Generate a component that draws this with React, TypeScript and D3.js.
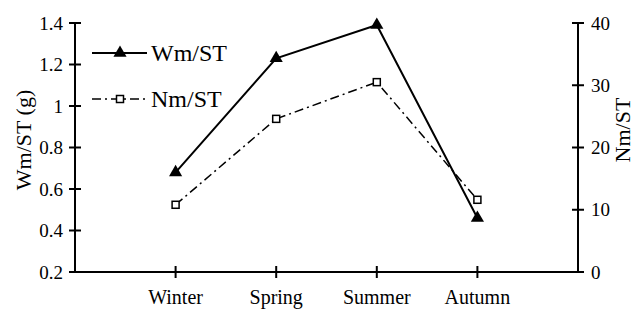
import React, { useRef, useEffect } from "react";
import * as d3 from "d3";

const seasons = ["Winter", "Spring", "Summer", "Autumn"];
const wmValues = [0.68, 1.23, 1.39, 0.46];
const nmValues = [10.8, 24.6, 30.5, 11.6];
const leftTicks = [0.2, 0.4, 0.6, 0.8, 1, 1.2, 1.4];
const rightTicks = [0, 10, 20, 30, 40];

const W = 635;
const H = 309;
const FONT = "'Liberation Serif', 'Times New Roman', serif";

export default function App() {
  const svgRef = useRef<SVGSVGElement>(null);

  useEffect(() => {
    if (!svgRef.current) return;
    const svg = d3.select(svgRef.current);
    svg.selectAll("*").remove();

    const left = 75;
    const right = 578;
    const top = 23;
    const bottom = 272;

    const x = d3.scalePoint<string>().domain(seasons).range([left, right]).padding(1);
    const yL = d3.scaleLinear().domain([0.2, 1.4]).range([bottom, top]);
    const yR = d3.scaleLinear().domain([0, 40]).range([bottom, top]);

    const g = svg.append("g").attr("font-family", FONT).attr("fill", "#000");

    // axis lines
    g.append("line").attr("x1", left).attr("x2", left).attr("y1", top).attr("y2", bottom + 1)
      .attr("stroke", "#000").attr("stroke-width", 2);
    g.append("line").attr("x1", right).attr("x2", right).attr("y1", top).attr("y2", bottom + 1)
      .attr("stroke", "#000").attr("stroke-width", 2);
    g.append("line").attr("x1", left).attr("x2", right).attr("y1", bottom).attr("y2", bottom)
      .attr("stroke", "#000").attr("stroke-width", 2);

    // left ticks
    leftTicks.forEach((t) => {
      g.append("line").attr("x1", left - 6).attr("x2", left + 6)
        .attr("y1", yL(t)).attr("y2", yL(t)).attr("stroke", "#000").attr("stroke-width", 2);
      g.append("text").attr("x", left - 12).attr("y", yL(t)).attr("dy", "0.35em")
        .attr("text-anchor", "end").attr("font-size", 19).text(String(t));
    });

    // right ticks
    rightTicks.forEach((t) => {
      g.append("line").attr("x1", right - 6).attr("x2", right + 6)
        .attr("y1", yR(t)).attr("y2", yR(t)).attr("stroke", "#000").attr("stroke-width", 2);
      g.append("text").attr("x", right + 13).attr("y", yR(t)).attr("dy", "0.35em")
        .attr("text-anchor", "start").attr("font-size", 19).text(String(t));
    });

    // x ticks
    seasons.forEach((s) => {
      const px = x(s)!;
      g.append("line").attr("x1", px).attr("x2", px).attr("y1", bottom - 6).attr("y2", bottom + 6)
        .attr("stroke", "#000").attr("stroke-width", 2);
      g.append("text").attr("x", px).attr("y", 304).attr("text-anchor", "middle")
        .attr("font-size", 20).text(s);
    });

    // axis titles
    g.append("text").attr("transform", `translate(31,140) rotate(-90)`)
      .attr("text-anchor", "middle").attr("font-size", 22).text("Wm/ST (g)");
    g.append("text").attr("transform", `translate(630,130) rotate(-90)`)
      .attr("text-anchor", "middle").attr("font-size", 22).text("Nm/ST");

    // Wm/ST line
    const lineL = d3.line<number>().x((_, i) => x(seasons[i])!).y((d) => yL(d));
    g.append("path").attr("d", lineL(wmValues)!).attr("fill", "none")
      .attr("stroke", "#000").attr("stroke-width", 2);
    const tri = d3.symbol().type(d3.symbolTriangle).size(75);
    wmValues.forEach((v, i) => {
      g.append("path").attr("d", tri()!)
        .attr("transform", `translate(${x(seasons[i])},${yL(v)})`).attr("fill", "#000");
    });

    // Nm/ST line
    const lineR = d3.line<number>().x((_, i) => x(seasons[i])!).y((d) => yR(d));
    g.append("path").attr("d", lineR(nmValues)!).attr("fill", "none")
      .attr("stroke", "#000").attr("stroke-width", 1.5).attr("stroke-dasharray", "9,4,2,4");
    nmValues.forEach((v, i) => {
      g.append("rect").attr("x", x(seasons[i])! - 3.5).attr("y", yR(v) - 3.5)
        .attr("width", 7).attr("height", 7).attr("fill", "#fff")
        .attr("stroke", "#000").attr("stroke-width", 1.5);
    });

    // legend
    const ly1 = 53;
    const ly2 = 99;
    g.append("line").attr("x1", 92).attr("x2", 147).attr("y1", ly1).attr("y2", ly1)
      .attr("stroke", "#000").attr("stroke-width", 2);
    g.append("path").attr("d", tri()!).attr("transform", `translate(120,${ly1})`).attr("fill", "#000");
    g.append("text").attr("x", 151).attr("y", ly1).attr("dy", "0.35em").attr("font-size", 24).text("Wm/ST");

    g.append("line").attr("x1", 92).attr("x2", 147).attr("y1", ly2).attr("y2", ly2)
      .attr("stroke", "#000").attr("stroke-width", 1.5).attr("stroke-dasharray", "9,4,2,4");
    g.append("rect").attr("x", 116.5).attr("y", ly2 - 3.5).attr("width", 7).attr("height", 7)
      .attr("fill", "#fff").attr("stroke", "#000").attr("stroke-width", 1.5);
    g.append("text").attr("x", 151).attr("y", ly2).attr("dy", "0.35em").attr("font-size", 24).text("Nm/ST");
  }, []);

  return (
    <svg ref={svgRef} width={W} height={H}
      style={{ position: "absolute", left: 0, top: 0, background: "#fff" }} />
  );
}
